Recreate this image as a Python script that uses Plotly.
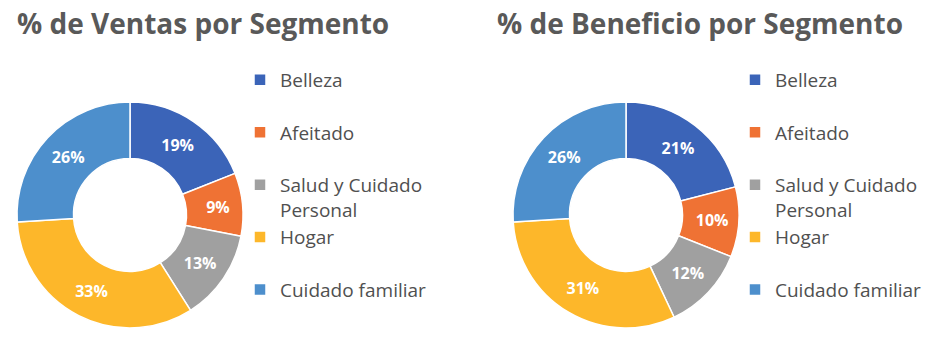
import plotly.graph_objects as go

categories = ["Belleza", "Afeitado", "Salud y Cuidado<br>Personal", "Hogar", "Cuidado familiar"]
ventas = [19, 9, 13, 33, 26]
beneficio = [21, 10, 12, 31, 26]
colors = ["#3B64B8", "#EF7234", "#A0A0A0", "#FDB72A", "#4D8FCC"]
titles = ["% de Ventas por Segmento", "% de Beneficio por Segmento"]

W, H = 952, 338
FONT = "Open Sans"
TXT = "#595959"

# legend labels padded to two lines so items space like the original
def legend_labels(suffix):
    return [(c if "<br>" in c else c + "<br>\u00a0") + suffix for c in categories]

def px_x(v):
    return v / W

def px_y(v):
    return 1 - v / H

fig = go.Figure()

# distinct (invisible) suffix so each pie keeps its own legend entries
pies = [(ventas, "legend", 17, 243, ""), (beneficio, "legend2", 513, 739, "\u200b")]
for vals, leg, x0, x1, suf in pies:
    fig.add_trace(go.Pie(
        labels=legend_labels(suf),
        values=vals,
        hole=0.5,
        sort=False,
        direction="clockwise",
        rotation=0,
        marker=dict(colors=colors, line=dict(color="white", width=1.5)),
        texttemplate="<b>%{value}%</b>",
        textposition="inside",
        insidetextorientation="horizontal",
        textfont=dict(family=FONT, size=16, color="white"),
        domain=dict(x=[px_x(x0), px_x(x1)], y=[px_y(328), px_y(102)]),
        legend=leg,
        showlegend=True,
    ))

leg_common = dict(
    font=dict(family=FONT, size=19, color="#505050"),
    valign="top",
    bgcolor="rgba(0,0,0,0)",
    borderwidth=0,
    xanchor="left",
    yanchor="top",
    itemclick=False,
    itemdoubleclick=False,
)

fig.update_layout(
    width=W,
    height=H,
    margin=dict(l=0, r=0, t=0, b=0),
    paper_bgcolor="white",
    plot_bgcolor="white",
    legend=dict(x=px_x(240), y=px_y(61), **leg_common),
    legend2=dict(x=px_x(735), y=px_y(61), **leg_common),
    annotations=[
        dict(text="<b>" + titles[0] + "</b>", x=px_x(15), y=px_y(23), xref="paper", yref="paper",
             xanchor="left", yanchor="middle", showarrow=False,
             font=dict(family=FONT, size=28, color=TXT)),
        dict(text="<b>" + titles[1] + "</b>", x=px_x(495), y=px_y(23), xref="paper", yref="paper",
             xanchor="left", yanchor="middle", showarrow=False,
             font=dict(family=FONT, size=28, color=TXT)),
    ],
)

fig.write_html("out.html")
